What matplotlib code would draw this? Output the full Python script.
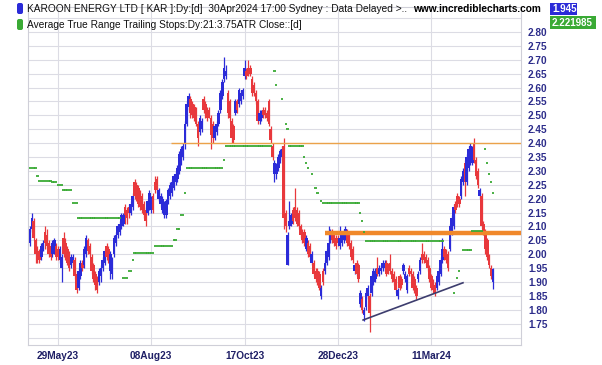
import numpy as np
import matplotlib
matplotlib.use("Agg")
import matplotlib.pyplot as plt
from matplotlib.patches import FancyBboxPatch, Rectangle

plt.rcParams["font.family"] = ["Liberation Sans", "DejaVu Sans"]

# ---- data (one bar per trading day) ----
dates = ["29May23", "08Aug23", "17Oct23", "28Dec23", "11Mar24"]
date_idx = [15, 65, 115, 165, 215]

opens = [
    2.04, 2.09, 2.12, 2.05, 2.01, 2.00, 1.99, 2.02, 2.08, 2.07,
    2.04, 2.03, 2.00, 2.01, 2.03, 2.02, 1.98, 1.95, 2.06, 2.04,
    2.02, 2.00, 1.96, 1.97, 1.98, 1.93, 1.88, 1.92, 1.97, 1.96,
    2.00, 2.05, 2.03, 1.99, 1.96, 1.93, 1.91, 1.90, 1.92, 1.95,
    1.97, 2.03, 2.02, 1.94, 1.93, 2.00, 2.04, 2.07, 2.08, 2.10,
    2.11, 2.17, 2.16, 2.17, 2.15, 2.17, 2.26, 2.25, 2.24, 2.22,
    2.21, 2.18, 2.16, 2.15, 2.17, 2.16, 2.21, 2.26, 2.27, 2.20,
    2.18, 2.16, 2.14, 2.14, 2.19, 2.21, 2.22, 2.24, 2.26, 2.27,
    2.30, 2.33, 2.35, 2.40, 2.47, 2.53, 2.56, 2.54, 2.53, 2.52,
    2.47, 2.44, 2.45, 2.56, 2.54, 2.52, 2.52, 2.49, 2.47, 2.42,
    2.44, 2.47, 2.52, 2.57, 2.63, 2.64, 2.58, 2.55, 2.48, 2.46,
    2.51, 2.55, 2.54, 2.55, 2.57, 2.64, 2.66, 2.67, 2.67, 2.63,
    2.61, 2.58, 2.55, 2.48, 2.49, 2.52, 2.52, 2.51, 2.55, 2.45,
    2.39, 2.29, 2.29, 2.31, 2.34, 2.35, 2.39, 2.15, 1.96, 2.10,
    2.11, 2.16, 2.17, 2.16, 2.15, 2.10, 2.08, 2.08, 2.02, 2.04,
    2.03, 1.97, 1.97, 1.94, 1.94, 1.93, 1.85, 1.94, 1.94, 1.97,
    1.99, 2.05, 2.08, 2.07, 2.06, 2.06, 2.03, 2.04, 2.05, 2.06,
    2.08, 2.07, 2.04, 2.02, 1.94, 1.97, 1.96, 1.82, 1.84, 1.78,
    1.81, 1.85, 1.85, 1.86, 1.90, 1.91, 1.95, 1.93, 1.94, 1.95,
    1.95, 1.97, 1.96, 1.97, 1.94, 1.93, 1.91, 1.85, 1.92, 1.91,
    1.94, 1.91, 1.87, 1.95, 1.94, 1.93, 1.91, 1.88, 1.91, 1.94,
    2.00, 2.00, 1.99, 1.98, 1.95, 1.92, 1.90, 1.89, 1.88, 1.90,
    1.93, 1.98, 2.02, 2.01, 2.00, 2.02, 2.08, 2.10, 2.18, 2.21,
    2.20, 2.21, 2.26, 2.33, 2.26, 2.31, 2.33, 2.33, 2.40, 2.34,
    2.30, 2.21, 2.21, 2.11, 2.08, 2.05, 1.99, 1.95, 1.90,
]
highs = [
    2.10, 2.15, 2.13, 2.06, 2.03, 2.02, 2.04, 2.05, 2.10, 2.09,
    2.05, 2.04, 2.05, 2.06, 2.04, 2.03, 2.03, 2.00, 2.08, 2.06,
    2.03, 2.01, 2.00, 2.00, 1.99, 1.94, 1.95, 1.98, 1.98, 2.03,
    2.07, 2.06, 2.04, 2.00, 1.97, 1.94, 1.92, 1.95, 1.96, 1.99,
    2.02, 2.04, 2.03, 2.01, 1.99, 2.07, 2.08, 2.11, 2.12, 2.15,
    2.15, 2.18, 2.17, 2.18, 2.19, 2.22, 2.27, 2.26, 2.25, 2.23,
    2.22, 2.19, 2.17, 2.20, 2.23, 2.21, 2.22, 2.28, 2.28, 2.24,
    2.22, 2.21, 2.19, 2.20, 2.24, 2.26, 2.27, 2.29, 2.30, 2.32,
    2.37, 2.39, 2.40, 2.48, 2.55, 2.58, 2.57, 2.55, 2.54, 2.53,
    2.48, 2.50, 2.49, 2.57, 2.55, 2.53, 2.53, 2.50, 2.48, 2.47,
    2.48, 2.52, 2.59, 2.63, 2.71, 2.68, 2.59, 2.56, 2.49, 2.47,
    2.56, 2.56, 2.60, 2.59, 2.60, 2.70, 2.67, 2.70, 2.68, 2.64,
    2.62, 2.59, 2.56, 2.52, 2.52, 2.53, 2.53, 2.52, 2.56, 2.46,
    2.40, 2.34, 2.33, 2.36, 2.38, 2.39, 2.42, 2.16, 2.08, 2.19,
    2.15, 2.17, 2.24, 2.17, 2.16, 2.11, 2.09, 2.09, 2.07, 2.05,
    2.04, 2.01, 1.98, 1.95, 1.95, 1.94, 1.89, 1.95, 1.98, 2.02,
    2.10, 2.09, 2.09, 2.08, 2.07, 2.07, 2.10, 2.08, 2.09, 2.10,
    2.09, 2.08, 2.05, 2.03, 1.97, 1.98, 1.97, 1.87, 1.85, 1.81,
    1.87, 1.89, 1.86, 1.93, 1.95, 1.95, 1.99, 1.96, 1.96, 1.98,
    1.98, 1.98, 1.97, 2.00, 1.95, 1.94, 1.92, 1.88, 1.93, 1.92,
    1.97, 1.94, 1.93, 1.96, 1.95, 1.94, 1.92, 1.89, 1.94, 1.99,
    2.04, 2.01, 2.00, 1.99, 1.96, 1.93, 1.91, 1.90, 1.93, 1.95,
    1.99, 2.06, 2.03, 2.02, 2.01, 2.11, 2.14, 2.18, 2.19, 2.22,
    2.21, 2.28, 2.31, 2.34, 2.36, 2.39, 2.40, 2.39, 2.42, 2.35,
    2.31, 2.24, 2.22, 2.12, 2.09, 2.06, 2.00, 1.96, 1.95,
]
lows = [
    2.03, 2.08, 2.05, 1.97, 1.97, 1.97, 1.98, 2.01, 2.02, 2.02,
    1.99, 1.98, 1.99, 2.00, 1.98, 1.98, 1.97, 1.90, 1.99, 1.98,
    1.96, 1.94, 1.95, 1.96, 1.91, 1.86, 1.87, 1.91, 1.94, 1.95,
    1.99, 2.00, 1.99, 1.93, 1.90, 1.87, 1.86, 1.89, 1.90, 1.94,
    1.96, 1.98, 1.97, 1.91, 1.91, 1.99, 2.03, 2.06, 2.07, 2.09,
    2.10, 2.11, 2.11, 2.13, 2.14, 2.16, 2.20, 2.19, 2.17, 2.16,
    2.15, 2.13, 2.10, 2.14, 2.16, 2.15, 2.15, 2.22, 2.22, 2.19,
    2.17, 2.15, 2.13, 2.13, 2.18, 2.20, 2.21, 2.23, 2.25, 2.26,
    2.29, 2.32, 2.34, 2.38, 2.46, 2.52, 2.49, 2.49, 2.48, 2.46,
    2.39, 2.43, 2.44, 2.51, 2.49, 2.48, 2.49, 2.38, 2.40, 2.41,
    2.43, 2.46, 2.51, 2.56, 2.62, 2.63, 2.49, 2.48, 2.40, 2.40,
    2.50, 2.51, 2.53, 2.54, 2.56, 2.63, 2.63, 2.64, 2.64, 2.57,
    2.57, 2.54, 2.47, 2.47, 2.48, 2.49, 2.49, 2.48, 2.46, 2.40,
    2.34, 2.26, 2.27, 2.30, 2.33, 2.34, 2.09, 2.08, 1.96, 2.09,
    2.10, 2.11, 2.12, 2.10, 2.09, 2.06, 2.04, 2.03, 2.01, 1.99,
    1.98, 1.96, 1.92, 1.90, 1.89, 1.87, 1.84, 1.89, 1.93, 1.96,
    1.98, 2.04, 2.04, 2.03, 2.02, 2.03, 2.02, 2.03, 2.04, 2.05,
    2.03, 2.02, 1.98, 1.97, 1.93, 1.92, 1.90, 1.81, 1.79, 1.76,
    1.80, 1.84, 1.72, 1.85, 1.89, 1.90, 1.92, 1.92, 1.93, 1.94,
    1.94, 1.92, 1.93, 1.93, 1.90, 1.89, 1.86, 1.84, 1.87, 1.88,
    1.93, 1.90, 1.86, 1.92, 1.92, 1.87, 1.86, 1.84, 1.90, 1.93,
    1.97, 1.97, 1.96, 1.94, 1.90, 1.87, 1.86, 1.85, 1.87, 1.89,
    1.92, 1.97, 1.98, 1.97, 1.94, 2.01, 2.07, 2.09, 2.15, 2.17,
    2.17, 2.20, 2.25, 2.21, 2.25, 2.30, 2.32, 2.32, 2.33, 2.27,
    2.24, 2.20, 2.09, 2.07, 2.00, 1.98, 1.95, 1.91, 1.875,
]
closes = [
    2.09, 2.13, 2.06, 2.00, 1.99, 1.98, 2.03, 2.04, 2.04, 2.03,
    2.00, 1.99, 2.04, 2.05, 1.99, 1.99, 2.02, 1.99, 2.00, 1.99,
    1.97, 1.95, 1.99, 1.99, 1.92, 1.87, 1.94, 1.97, 1.95, 2.02,
    2.06, 2.01, 2.00, 1.94, 1.91, 1.89, 1.87, 1.94, 1.95, 1.98,
    2.01, 1.99, 1.98, 2.00, 1.98, 2.06, 2.07, 2.10, 2.11, 2.14,
    2.14, 2.14, 2.13, 2.15, 2.18, 2.21, 2.21, 2.20, 2.18, 2.17,
    2.16, 2.14, 2.12, 2.19, 2.22, 2.20, 2.16, 2.23, 2.23, 2.23,
    2.21, 2.20, 2.18, 2.19, 2.23, 2.25, 2.26, 2.28, 2.29, 2.31,
    2.36, 2.38, 2.39, 2.47, 2.54, 2.57, 2.51, 2.50, 2.49, 2.47,
    2.42, 2.49, 2.48, 2.52, 2.51, 2.49, 2.50, 2.43, 2.42, 2.46,
    2.47, 2.51, 2.58, 2.62, 2.67, 2.66, 2.51, 2.49, 2.42, 2.41,
    2.55, 2.52, 2.59, 2.58, 2.59, 2.67, 2.64, 2.65, 2.65, 2.58,
    2.58, 2.55, 2.48, 2.51, 2.51, 2.50, 2.50, 2.49, 2.47, 2.41,
    2.35, 2.33, 2.32, 2.35, 2.37, 2.38, 2.13, 2.10, 2.07, 2.12,
    2.14, 2.12, 2.13, 2.11, 2.10, 2.07, 2.05, 2.04, 2.06, 2.00,
    1.99, 2.00, 1.93, 1.91, 1.90, 1.88, 1.88, 1.90, 1.97, 2.01,
    2.04, 2.08, 2.05, 2.04, 2.03, 2.04, 2.06, 2.07, 2.08, 2.09,
    2.04, 2.03, 1.99, 1.98, 1.96, 1.93, 1.91, 1.86, 1.80, 1.80,
    1.86, 1.88, 1.79, 1.92, 1.94, 1.94, 1.93, 1.95, 1.95, 1.97,
    1.97, 1.93, 1.94, 1.94, 1.91, 1.90, 1.87, 1.87, 1.88, 1.89,
    1.96, 1.93, 1.92, 1.93, 1.93, 1.88, 1.87, 1.85, 1.93, 1.98,
    1.98, 1.98, 1.97, 1.95, 1.91, 1.88, 1.87, 1.86, 1.92, 1.94,
    1.98, 2.02, 1.99, 1.98, 1.95, 2.10, 2.13, 2.17, 2.16, 2.18,
    2.18, 2.27, 2.30, 2.26, 2.35, 2.38, 2.39, 2.38, 2.34, 2.28,
    2.25, 2.23, 2.10, 2.08, 2.02, 1.99, 1.96, 1.92, 1.945,
]
# ATR trailing stop, None where no dash is drawn
stops = [
    2.31, 2.31, 2.31, 2.31, 2.28, 2.265, 2.265, 2.265, 2.265, 2.265,
    2.265, 2.265, 2.26, 2.26, 2.26, 2.25, 2.25, 2.25, 2.23, 2.23,
    2.23, 2.23, 2.23, 2.185, 2.185, 2.185, 2.13, 2.13, 2.13, 2.13,
    2.13, 2.13, 2.13, 2.13, 2.13, 2.13, 2.13, 2.13, 2.13, 2.13,
    2.13, 2.13, 2.13, 2.13, 2.13, 2.13, 2.13, 2.13, 2.13, None,
    1.915, 1.915, 1.915, 1.94, 1.94, 1.98, 2.005, 2.005, 2.005, 2.005,
    2.005, 2.005, 2.005, 2.005, 2.005, 2.005, 2.005, 2.03, 2.03, 2.03,
    2.03, 2.03, 2.03, 2.03, 2.03, 2.03, 2.03, 2.05, 2.05, 2.09,
    2.09, 2.14, 2.14, 2.22, 2.31, 2.31, 2.31, 2.31, 2.31, 2.31,
    2.31, 2.31, 2.31, 2.31, 2.31, 2.31, 2.31, 2.31, 2.31, 2.31,
    2.31, 2.31, 2.31, 2.31, 2.34, 2.39, 2.39, 2.39, 2.39, 2.39,
    2.39, 2.39, 2.39, 2.39, 2.39, 2.39, 2.39, 2.39, 2.39, 2.39,
    2.39, 2.39, 2.39, 2.39, 2.39, 2.39, 2.39, 2.39, 2.39, 2.39,
    None, 2.66, 2.61, None, None, 2.56, None, 2.47, 2.45, 2.39,
    2.39, 2.39, 2.39, 2.39, 2.39, 2.39, 2.39, 2.35, 2.33, 2.31,
    None, 2.29, None, 2.24, 2.22, None, 2.19, 2.185, 2.185, 2.185,
    2.185, 2.185, 2.185, 2.185, 2.185, 2.185, 2.185, 2.185, 2.185, 2.185,
    2.185, 2.185, 2.185, 2.185, 2.185, 2.185, 2.185, 2.15, 2.12, 2.08,
    2.047, 2.047, 2.047, 2.047, 2.047, 2.047, 2.047, 2.047, 2.047, 2.047,
    2.047, 2.047, 2.047, 2.047, 2.047, 2.047, 2.047, 2.047, 2.047, 2.047,
    2.047, 2.047, 2.047, 2.047, 2.047, 2.047, 2.047, 2.047, 2.047, 2.047,
    2.047, 2.047, 2.047, 2.047, 2.047, 2.047, 2.047, 2.047, 2.047, 2.047,
    2.047, 2.047, None, None, None, None, None, 1.86, None, 1.915,
    1.94, None, 2.015, 2.015, 2.015, 2.015, 2.015, 2.085, 2.085, 2.085,
    2.085, 2.085, 2.085, None, 2.38, 2.33, 2.29, 2.26, 2.22,
]
last_close, last_stop = "1.945", "2.221985"
upper_level, upper_from = 2.40, 75.6
lower_level, lower_from = 2.077, 158
trend_x, trend_y = [178.5, 232], [1.763, 1.897]

BLUE, RED, GREEN = "#2b2bd8", "#e8383c", "#3aaa35"
NAVY = "#2c2c8a"
W, H = 602, 365


def fx(px):
    return px / W


def fy(py):
    return 1 - py / H


fig = plt.figure(figsize=(W / 100, H / 100), dpi=100)
fig.patch.set_facecolor("white")
ax = fig.add_axes([fx(28), fy(345), fx(521) - fx(28), fy(7) - fy(345)])
xmax = 263.1
ax.set_xlim(-1.07, xmax)
ax.set_ylim(1.673, 2.890)

o, hi, lo, c = map(np.array, (opens, highs, lows, closes))
x = np.arange(len(c))
col = np.where(c >= o, BLUE, RED)
ax.vlines(x, lo, hi, colors=col, lw=0.9, zorder=3)
ax.bar(x, np.maximum(np.abs(c - o), 0.004), bottom=np.minimum(o, c), width=1.4,
       color=col, lw=0, zorder=4)

ax.hlines(upper_level, upper_from, xmax, color="#eba24a", lw=1.0, zorder=5)
ax.hlines(lower_level, lower_from, xmax, color="#f0882a", lw=3.2, zorder=5)
ax.plot(trend_x, trend_y, color="#3d3d6e", lw=1.2, zorder=6)

sx = np.array([i for i, v in enumerate(stops) if v is not None])
sv = np.array([v for v in stops if v is not None])
ax.hlines(sv, sx - 0.6, sx + 0.6, color=GREEN, lw=1.3, zorder=7)

yt = np.round(np.arange(1.70, 2.86, 0.05), 2)
ax.set_yticks(yt, [f"{v:.2f}" if 1.74 < v < 2.81 else "" for v in yt])
ax.yaxis.tick_right()
ax.tick_params(axis="y", length=0, pad=5, labelsize=7.2, labelcolor=NAVY)
ax.set_xticks(date_idx, dates)
ax.tick_params(axis="x", length=0, pad=4, labelsize=7.3, labelcolor="#1f1f66")
for t in ax.get_yticklabels() + ax.get_xticklabels():
    t.set_fontweight("bold")
ax.grid(True, color="#dcdce4", lw=0.8)
ax.set_axisbelow(True)
for s in ax.spines.values():
    s.set_color("#cfcfd8")
    s.set_linewidth(0.8)

# header
for ytop, fc in [(3, BLUE), (19, GREEN)]:
    fig.add_artist(FancyBboxPatch((17 / 100, (H - ytop - 11) / 100), 6 / 100, 11 / 100,
                                  boxstyle="round,pad=0,rounding_size=0.02",
                                  transform=fig.dpi_scale_trans, fc=fc, ec="none"))
fig.text(fx(27), fy(9), "KAROON ENERGY LTD [ KAR ]:Dy:[d]  30Apr2024 17:00 Sydney : Data Delayed >..",
         fontsize=7.3, va="center", color="#111111")
fig.text(fx(413), fy(9), "www.incrediblecharts.com", fontsize=7.3, va="center",
         fontweight="bold", color="#000000")
fig.text(fx(27), fy(25), "Average True Range Trailing Stops:Dy:21:3.75ATR Close::[d]",
         fontsize=7.3, va="center", color="#111111")

# last-value boxes
for (y0, y1, x1, fc, txt) in [(3, 15, 577, BLUE, last_close), (16, 29, 596, GREEN, last_stop)]:
    fig.add_artist(Rectangle((fx(550), fy(y1)), fx(x1) - fx(550), fy(y0) - fy(y1),
                             transform=fig.transFigure, fc=fc, ec="none"))
    fig.text(fx(552), fy((y0 + y1) / 2), txt, fontsize=7.0, fontweight="bold",
             color="white", va="center")

fig.savefig("out.png", dpi=100)
